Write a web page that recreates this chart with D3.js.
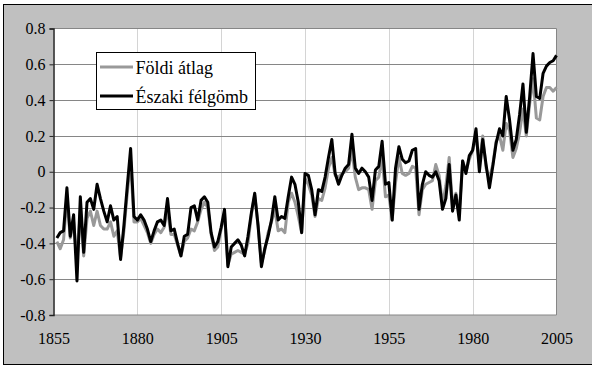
<!DOCTYPE html>
<meta charset="utf-8">
<style>
body { margin: 0; background: #fff; }
svg text { font-family: "Liberation Serif", "Times New Roman", Times, "DejaVu Serif", serif; fill: #000; }
</style>
<svg id="svg" width="592" height="366"></svg>
<script src="https://d3js.org/d3.v7.min.js"></script>
<script>
// years of the series (first and last year shown)
var firstYear = 1856
var lastYear = 2005

// Földi átlag (global mean), 1856-2005
var globalAnom = [
  -0.39, -0.43, -0.38, -0.15, -0.37, -0.28, -0.50, -0.22, -0.47, -0.26,
  -0.22, -0.30, -0.22, -0.30, -0.32, -0.32, -0.28, -0.36, -0.33, -0.48,
  -0.33, -0.12, 0.06, -0.28, -0.28, -0.26, -0.30, -0.34, -0.40, -0.35,
  -0.32, -0.34, -0.31, -0.21, -0.35, -0.35, -0.41, -0.47, -0.39, -0.37,
  -0.32, -0.33, -0.28, -0.21, -0.17, -0.20, -0.35, -0.44, -0.42, -0.32,
  -0.23, -0.52, -0.46, -0.45, -0.44, -0.45, -0.46, -0.40, -0.24, -0.13,
  -0.30, -0.51, -0.44, -0.34, -0.28, -0.21, -0.33, -0.32, -0.34, -0.17,
  -0.12, -0.17, -0.25, -0.34, -0.04, -0.07, -0.13, -0.25, -0.15, -0.16,
  -0.09, 0.02, 0.08, -0.02, -0.03, -0.01, 0.00, 0.02, 0.12, -0.03,
  -0.10, -0.09, -0.09, -0.10, -0.21, -0.05, -0.03, 0.08, -0.14, -0.13,
  -0.27, -0.06, 0.08, -0.01, -0.02, -0.01, 0.03, 0.02, -0.24, -0.10,
  -0.07, -0.06, -0.05, 0.04, -0.02, -0.18, -0.08, 0.08, -0.19, -0.12,
  -0.23, 0.06, 0.00, 0.07, 0.12, 0.20, 0.05, 0.20, 0.02, -0.04,
  0.04, 0.17, 0.20, 0.12, 0.27, 0.23, 0.08, 0.13, 0.22, 0.35,
  0.20, 0.38, 0.52, 0.30, 0.29, 0.42, 0.47, 0.47, 0.45, 0.47
]

// Északi félgömb (northern hemisphere), 1856-2005
var northAnom = [
  -0.37, -0.34, -0.33, -0.09, -0.36, -0.24, -0.61, -0.14, -0.45, -0.17,
  -0.15, -0.21, -0.07, -0.15, -0.22, -0.28, -0.19, -0.27, -0.25, -0.49,
  -0.30, -0.08, 0.13, -0.25, -0.27, -0.24, -0.27, -0.32, -0.39, -0.33,
  -0.28, -0.27, -0.30, -0.15, -0.33, -0.32, -0.40, -0.47, -0.36, -0.35,
  -0.20, -0.19, -0.27, -0.16, -0.14, -0.17, -0.34, -0.42, -0.39, -0.31,
  -0.21, -0.53, -0.42, -0.40, -0.38, -0.41, -0.47, -0.36, -0.23, -0.12,
  -0.30, -0.53, -0.43, -0.36, -0.27, -0.14, -0.27, -0.25, -0.26, -0.14,
  -0.03, -0.07, -0.17, -0.34, -0.01, -0.02, -0.10, -0.24, -0.10, -0.11,
  -0.03, 0.08, 0.18, -0.01, -0.07, -0.02, 0.02, 0.04, 0.21, 0.02,
  -0.01, 0.02, 0.00, -0.03, -0.16, 0.01, 0.03, 0.17, -0.07, -0.06,
  -0.27, 0.02, 0.14, 0.07, 0.05, 0.06, 0.12, 0.13, -0.21, -0.07,
  0.00, -0.02, -0.03, 0.00, -0.05, -0.21, -0.15, 0.04, -0.22, -0.13,
  -0.27, 0.06, -0.01, 0.09, 0.12, 0.24, 0.00, 0.18, 0.04, -0.09,
  0.03, 0.16, 0.24, 0.20, 0.42, 0.29, 0.12, 0.18, 0.32, 0.49,
  0.22, 0.42, 0.66, 0.42, 0.41, 0.55, 0.59, 0.61, 0.62, 0.65
]

var xTicks = [1855, 1880, 1905, 1930, 1955, 1980, 2005]
var yTicks = [-0.8, -0.6, -0.4, -0.2, 0, 0.2, 0.4, 0.6, 0.8]
var seriesNames = ["Földi átlag", "Északi félgömb"]
var seriesColors = ["#999999", "#000000"]

var years = d3.range(firstYear, lastYear + 1)

var svg = d3.select("svg")
var serif = "'Liberation Serif', 'Times New Roman', Times, 'DejaVu Serif', serif"

var plotLeft = 53.5, plotRight = 556.5, plotTop = 28.5, plotBottom = 315

var x = d3.scaleLinear().domain([1855, 2005]).range([plotLeft, plotRight])
var y = d3.scaleLinear().domain([-0.8, 0.8]).range([plotBottom, plotTop])

// chart area background + outer frame
svg.append("rect")
    .attr("x", 3.5).attr("y", 4.5)
    .attr("width", 600).attr("height", 360)
    .attr("fill", "#c0c0c0")
    .attr("stroke", "#000")

// plot area
svg.append("rect")
    .attr("x", plotLeft).attr("y", plotTop)
    .attr("width", plotRight - plotLeft).attr("height", plotBottom - plotTop)
    .attr("fill", "#fff")

// vertical grid
svg.append("g")
    .selectAll("line")
    .data(xTicks.slice(1, -1))
    .enter().append("line")
    .attr("x1", function(d) { return Math.round(x(d)) + 0.5 })
    .attr("x2", function(d) { return Math.round(x(d)) + 0.5 })
    .attr("y1", plotTop).attr("y2", plotBottom)
    .attr("stroke", "#d4d4d4")

// horizontal grid
svg.append("g")
    .selectAll("line")
    .data(yTicks.slice(1, -1))
    .enter().append("line")
    .attr("x1", plotLeft).attr("x2", plotRight)
    .attr("y1", function(d) { return Math.round(y(d)) + 0.5 })
    .attr("y2", function(d) { return Math.round(y(d)) + 0.5 })
    .attr("stroke", "#868686")

// plot border
svg.append("path")
    .attr("d", "M" + plotLeft + "," + plotTop + "H" + plotRight + "V" + plotBottom + "H" + plotLeft)
    .attr("fill", "none")
    .attr("stroke", "#868686")

var line = d3.line()
    .x(function(d, i) { return x(years[i]) })
    .y(function(d) { return y(d) })

svg.append("path")
    .datum(globalAnom)
    .attr("d", line)
    .attr("fill", "none")
    .attr("stroke", seriesColors[0])
    .attr("stroke-width", 3)
    .attr("stroke-linejoin", "round")

svg.append("path")
    .datum(northAnom)
    .attr("d", line)
    .attr("fill", "none")
    .attr("stroke", seriesColors[1])
    .attr("stroke-width", 3)
    .attr("stroke-linejoin", "round")

// y axis
var yAxis = svg.append("g")
    .attr("transform", "translate(" + plotLeft + ",0)")
    .call(d3.axisLeft(y).tickValues(yTicks).tickSize(4).tickPadding(4)
        .tickFormat(function(d) { return d === 0 ? "0" : d.toFixed(1) }))
yAxis.attr("font-family", serif)
yAxis.select(".domain").attr("stroke", "#222").attr("stroke-width", 1.5)
yAxis.selectAll(".tick line").attr("stroke", "#222")
yAxis.selectAll("text")
    .style("font-family", serif)
    .style("font-size", "16px")
    .attr("fill", "#000")

// x axis labels
var xAxis = svg.append("g")
    .attr("transform", "translate(0," + plotBottom + ")")
    .call(d3.axisBottom(x).tickValues(xTicks).tickSize(0).tickPadding(18)
        .tickFormat(d3.format("d")))
xAxis.attr("font-family", serif)
xAxis.select(".domain").remove()
xAxis.selectAll("text")
    .style("font-family", serif)
    .style("font-size", "16px")
    .attr("fill", "#000")

// legend
var legend = svg.append("g").attr("transform", "translate(96.5,52.5)")
legend.append("rect")
    .attr("width", 159).attr("height", 57)
    .attr("fill", "#fff").attr("stroke", "#000")

var item = legend.selectAll("g.item")
    .data(seriesNames)
    .enter().append("g")
    .attr("class", "item")
    .attr("transform", function(d, i) { return "translate(0," + (14.5 + i * 29) + ")" })

item.append("line")
    .attr("x1", 3.5).attr("x2", 36.5)
    .attr("stroke", function(d, i) { return seriesColors[i] })
    .attr("stroke-width", 3)

item.append("text")
    .attr("x", 39)
    .attr("y", 6.5)
    .style("font-family", serif)
    .style("font-size", "18px")
    .text(function(d) { return d })
</script>
